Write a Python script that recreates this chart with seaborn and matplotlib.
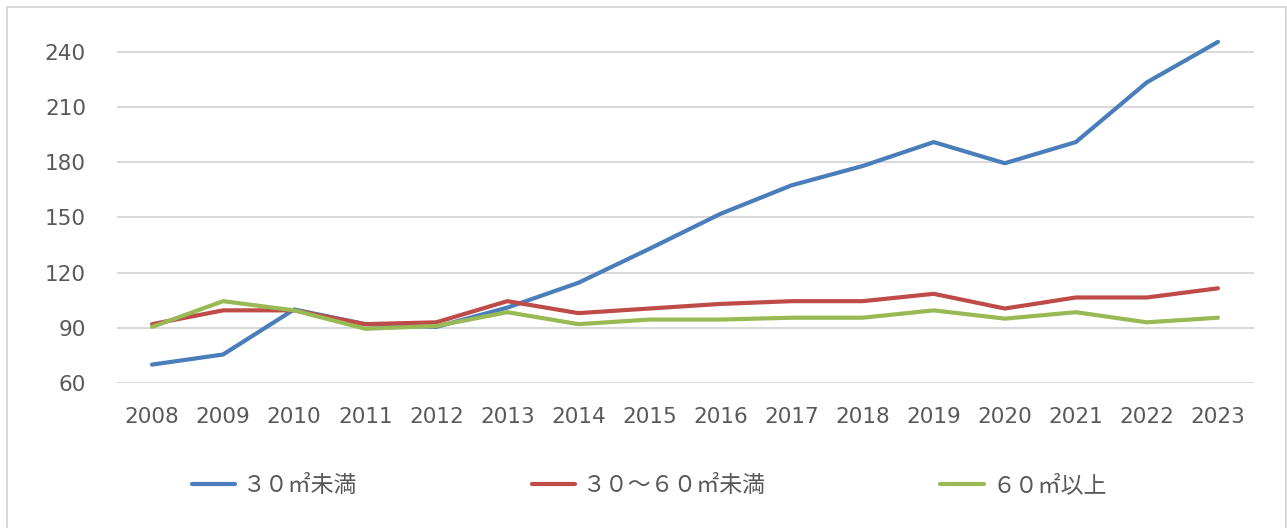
import matplotlib
matplotlib.use("Agg")
import matplotlib.pyplot as plt
import seaborn as sns
import pandas as pd
from matplotlib.patches import Rectangle

years = [str(y) for y in range(2008, 2024)]
series_names = ["３０㎡未満", "３０～６０㎡未満", "６０㎡以上"]
small = [70, 75.5, 100, 92, 90.5, 101, 114.5, 133, 152, 167.5, 178, 191, 179.5, 191, 223.5, 245.5]
middle = [92, 99.5, 99.5, 92, 93, 104.5, 98, 100.5, 103, 104.5, 104.5, 108.5, 100.5, 106.5, 106.5, 111.5]
large = [90.5, 104.5, 99.5, 89.5, 91, 98.5, 92, 94.5, 94.5, 95.5, 95.5, 99.5, 95, 98.5, 93, 95.5]
y_ticks = [60, 90, 120, 150, 180, 210, 240]

colors = ["#4A7EBB", "#BE4B48", "#98B954"]

df = pd.DataFrame({
    "year": years * 3,
    "value": small + middle + large,
    "series": [series_names[0]] * 16 + [series_names[1]] * 16 + [series_names[2]] * 16,
})

sns.set_theme(style="white")
plt.rcParams["font.family"] = ["DejaVu Sans", "Noto Sans CJK JP"]

fig = plt.figure(figsize=(12.87, 5.28), dpi=100)
ax = fig.add_axes([116.5 / 1287, (528 - 383) / 528, (1253.5 - 116.5) / 1287, (383 - 33.6) / 528])

sns.lineplot(data=df, x="year", y="value", hue="series", hue_order=series_names,
             palette=colors, linewidth=3.0, ax=ax, sort=False, legend=True,
             solid_capstyle="round")

ax.set_xlim(-0.5, 15.5)
ax.set_ylim(60, 250)
ax.set_yticks(y_ticks)
ax.set_yticklabels([str(t) for t in y_ticks])
ax.yaxis.grid(True, color="#D9D9D9", linewidth=1.5)
ax.set_axisbelow(True)
for s in ax.spines.values():
    s.set_visible(False)
ax.set_xlabel("")
ax.set_ylabel("")
ax.tick_params(axis="y", length=0, pad=22, labelsize=15.5, labelcolor="#595959")
ax.tick_params(axis="x", length=0, pad=17, labelsize=15.5, labelcolor="#595959")

handles, labels = ax.get_legend_handles_labels()
ax.get_legend().remove()
leg = fig.legend(handles, labels, loc="center", bbox_to_anchor=(649 / 1287, 1 - 486 / 528),
                 ncol=3, frameon=False, columnspacing=7.6, handlelength=1.9,
                 handletextpad=0.35,
                 prop={"family": ["Noto Sans CJK JP", "DejaVu Sans"], "size": 16.5})
for t in leg.get_texts():
    t.set_color("#595959")
for h in leg.get_lines():
    h.set_linewidth(3.0)

fig.patches.append(Rectangle((7 / 1287, -0.05), (1286 - 7) / 1287, 1.05 - 7 / 528,
                             transform=fig.transFigure, fill=False,
                             edgecolor="#D9D9D9", linewidth=1.5))

fig.savefig("out.png", dpi=100)
